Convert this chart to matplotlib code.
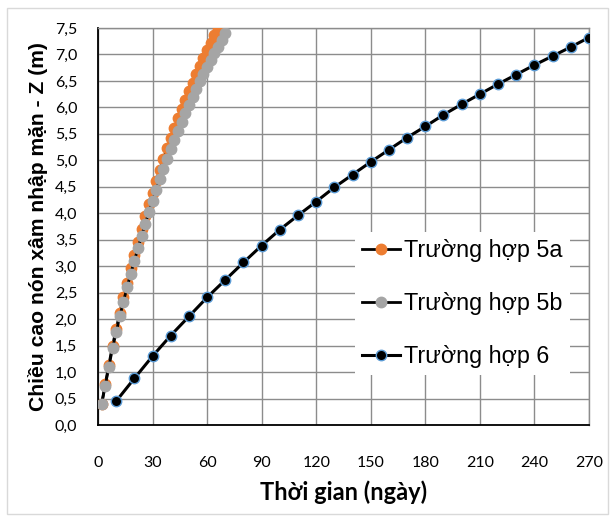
import matplotlib
matplotlib.use("Agg")
import matplotlib.pyplot as plt
from matplotlib.patches import Rectangle
from matplotlib.ticker import FuncFormatter

# Case 5a: time (days) and intrusion cone height Z (m)
t_5a = [2, 4, 6, 8, 10, 12, 14, 16, 18, 20, 22, 24, 26, 28, 30, 32, 34,
        36, 38, 40, 42, 44, 46, 48, 50, 52, 54, 56, 58, 60, 62, 64, 66]
z_5a = [0.40, 0.77, 1.14, 1.50, 1.81, 2.12, 2.41, 2.69, 2.96, 3.21, 3.46,
        3.70, 3.94, 4.17, 4.39, 4.61, 4.82, 5.03, 5.23, 5.42, 5.61, 5.79,
        5.97, 6.14, 6.31, 6.47, 6.63, 6.78, 6.93, 7.08, 7.22, 7.36, 7.50]

# Case 5b
t_5b = [2, 4, 6, 8, 10, 12, 14, 16, 18, 20, 22, 24, 26, 28, 30, 32, 34,
        36, 38, 40, 42, 44, 46, 48, 50, 52, 54, 56, 58, 60, 62, 64, 66,
        68, 70]
z_5b = [0.39, 0.74, 1.10, 1.45, 1.75, 2.05, 2.33, 2.60, 2.86, 3.10, 3.34,
        3.57, 3.80, 4.02, 4.23, 4.44, 4.64, 4.84, 5.03, 5.21, 5.39, 5.56,
        5.73, 5.89, 6.05, 6.20, 6.35, 6.49, 6.63, 6.76, 6.89, 7.02, 7.15,
        7.28, 7.40]

# Case 6
t_6 = [10, 20, 30, 40, 50, 60, 70, 80, 90, 100, 110, 120, 130, 140, 150,
       160, 170, 180, 190, 200, 210, 220, 230, 240, 250, 260, 270]
z_6 = [0.45, 0.88, 1.30, 1.69, 2.05, 2.41, 2.74, 3.07, 3.39, 3.69, 3.96,
       4.22, 4.49, 4.73, 4.97, 5.20, 5.43, 5.64, 5.86, 6.06, 6.25, 6.44,
       6.62, 6.80, 6.97, 7.14, 7.32]

labels = ["Trường hợp 5a", "Trường hợp 5b", "Trường hợp 6"]
x_ticks = list(range(0, 271, 30))
y_ticks = [i * 0.5 for i in range(16)]

fig = plt.figure(figsize=(6.15, 5.2), dpi=100)
fig.patches.append(Rectangle((0.012, 0.012), 0.976, 0.972, transform=fig.transFigure,
                             fill=False, edgecolor="#d9d9d9", linewidth=1.0))
ax = fig.add_axes([0.1593, 0.1827, 0.7984, 0.7635])

ax.plot(t_5a, z_5a, color="black", lw=2, marker="o", ms=7.5,
        mfc="#ED7D31", mec="#ED7D31", label=labels[0], zorder=3)
ax.plot(t_5b, z_5b, color="black", lw=2, marker="o", ms=7.5,
        mfc="#A5A5A5", mec="#A5A5A5", label=labels[1], zorder=4)
ax.plot(t_6, z_6, color="black", lw=2.2, marker="o", ms=7.5,
        mfc="black", mec="#5B9BD5", mew=1.0, label=labels[2], zorder=5)

ax.set_xlim(0, 270)
ax.set_ylim(0, 7.5)
ax.set_xticks(x_ticks)
ax.set_yticks(y_ticks)
ax.yaxis.set_major_formatter(FuncFormatter(lambda v, p: f"{v:.1f}".replace(".", ",")))
ax.grid(True, color="#8c8c8c", lw=1.0)
ax.set_axisbelow(True)
ax.tick_params(length=0, labelsize=11.5)
ax.tick_params(axis="x", pad=22)
ax.tick_params(axis="y", pad=15)
for lab in ax.get_xticklabels() + ax.get_yticklabels():
    lab.set_family("Lato")
for s in ("top", "right"):
    ax.spines[s].set_color("#8c8c8c")
    ax.spines[s].set_linewidth(1.0)
for s in ("left", "bottom"):
    ax.spines[s].set_color("black")
    ax.spines[s].set_linewidth(1.3)

ax.set_xlabel("Thời gian (ngày)", family="Lato", fontweight="bold", fontsize=17, labelpad=8)
ax.set_ylabel("Chiều cao nón xâm nhập mặn - Z (m)", family="Liberation Sans",
              fontweight="bold", fontsize=15.2, labelpad=5)

leg = ax.legend(loc="upper left", bbox_to_anchor=(0.523, 0.486), frameon=True,
                fancybox=False, framealpha=1, edgecolor="none", facecolor="white",
                prop={"family": "Liberation Sans", "size": 16.8},
                handlelength=1.63, handletextpad=0.2, labelspacing=1.28,
                borderpad=0.3, borderaxespad=0)
leg.set_zorder(6)

fig.savefig("out.png", dpi=100)
